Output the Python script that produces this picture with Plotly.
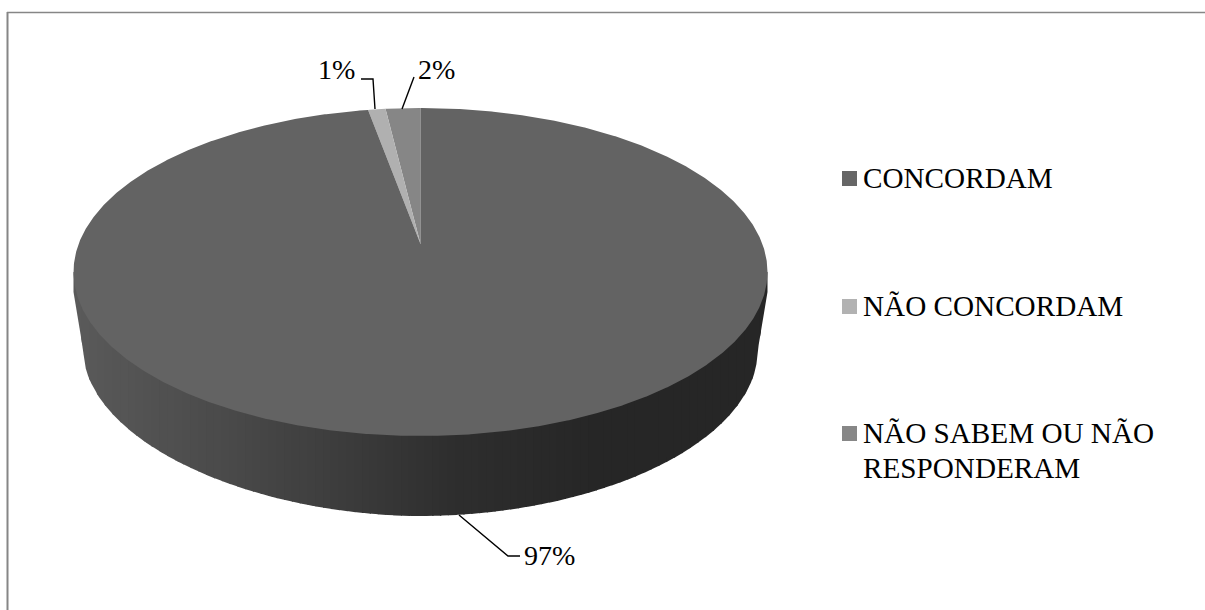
import math
import numpy as np
import plotly.graph_objects as go

# Survey answers; the pie runs counter-clockwise from 12 o'clock, last answer first
categories = ["CONCORDAM", "NÃO CONCORDAM", "NÃO SABEM OU NÃO<br>RESPONDERAM"]
values = [97, 1, 2]
labels = ["97%", "1%", "2%"]
top_colors = ["#636363", "#b0b0b0", "#868686"]
legend_colors = ["#666666", "#b2b2b2", "#878787"]

W, H = 1205, 610
FONT = "Liberation Serif"
LEGEND_SIZE = 29.2
LABEL_SIZE = 28

# Perspective disc: top face ellipse, its vanishing apex, and the rim's lower ellipse
CX, CY, RX, RY = 420.5, 272.0, 347.0, 164.0
APEX_Y = 244.0
SQUEEZE = 2.05
BX, BY, BRX, BRY = 420.5, 352.0, 337.0, 164.0
LEFT_POWER, RIGHT_POWER = 1.9, 1.95


def rim_point(theta):
    """Point of the top ellipse reached from the apex at pie angle theta."""
    dx, dy = SQUEEZE * math.sin(theta), -math.cos(theta)
    ox, oy = 0.0, (APEX_Y - CY)
    a = (dx / RX) ** 2 + (dy / RY) ** 2
    b = 2 * (ox * dx / RX**2 + oy * dy / RY**2)
    c = (ox / RX) ** 2 + (oy / RY) ** 2 - 1
    t = (-b + math.sqrt(b * b - 4 * a * c)) / (2 * a)
    return CX + t * dx, APEX_Y + t * dy


def wedge(start, end):
    """Outline of a slice between two cumulative shares of 100."""
    thetas = np.linspace(start, end, max(int((end - start) * 12), 8)) / 100 * 2 * math.pi
    pts = [rim_point(t) for t in thetas]
    xs = [CX] + [p[0] for p in pts] + [CX]
    ys = [APEX_Y] + [p[1] for p in pts] + [APEX_Y]
    return xs, ys


def wall_bottom(x):
    """Lower outline of the disc's side wall at horizontal position x."""
    u = (x - BX) / BRX
    if abs(u) >= 1:
        # straight silhouette between the two ellipses
        edge_top = 292.0
        f = (abs(x - CX) - BRX) / (RX - BRX)
        return BY + (edge_top - BY) * min(max(f, 0), 1)
    p = LEFT_POWER if u < 0 else RIGHT_POWER
    return BY + BRY * (1 - abs(u) ** p) ** (1 / p)


def wall_shade(x):
    """Grey level of the side wall, darkening from left to right."""
    stops_x = [CX - RX, 260, 450, 600, CX + RX]
    stops_v = [0x5a, 0x46, 0x2e, 0x26, 0x26]
    return int(round(float(np.interp(x, stops_x, stops_v))))


fig = go.Figure()

# Side wall as narrow vertical bands carrying the shading
edges = np.linspace(CX - RX, CX + RX, 90)
for x0, x1 in zip(edges[:-1], edges[1:]):
    xs = np.linspace(x0, min(x1 + 1.2, CX + RX), 5)
    lower = [wall_bottom(x) for x in xs]
    v = wall_shade((x0 + x1) / 2)
    fig.add_trace(go.Scatter(
        x=[xs[0]] + list(xs) + [xs[-1], xs[0]],
        y=[CY] + lower + [CY, CY],
        mode="lines", fill="toself", line=dict(width=0),
        fillcolor=f"rgb({v},{v},{v})", hoverinfo="skip", showlegend=False,
    ))

# Top face slices
cum = 0.0
for i in [2, 1, 0]:
    start, end = cum, cum + values[i]
    xs, ys = wedge(-end, -start)
    fig.add_trace(go.Scatter(
        x=xs, y=ys, mode="lines", fill="toself", line=dict(width=0),
        fillcolor=top_colors[i], name=categories[i], hoverinfo="name", showlegend=False,
    ))
    cum = end

# Leader lines
leaders = [
    ([459, 508, 520], [515, 556, 556]),
    ([375, 373, 361], [109, 79, 79]),
    ([402, 414], [109, 77]),
]
for lx, ly in leaders:
    fig.add_trace(go.Scatter(x=lx, y=ly, mode="lines", line=dict(color="#000000", width=1.4),
                             hoverinfo="skip", showlegend=False))

# Legend swatches
legend_y = [178.5, 306.5, 433.5]
fig.add_trace(go.Scatter(
    x=[849.5] * 3, y=legend_y, mode="markers",
    marker=dict(symbol="square", size=15, color=legend_colors, line=dict(width=0)),
    hoverinfo="skip", showlegend=False,
))

annotations = []


def put_text(text, x, y, size):
    annotations.append(dict(
        x=x, y=y, xref="x", yref="y", text=text, showarrow=False,
        xanchor="left", yanchor="middle", align="left",
        font=dict(family=FONT, size=size, color="#000000"),
    ))


for cat, y in zip(categories, legend_y):
    for k, line in enumerate(cat.split("<br>")):
        put_text(line, 861, y - 1 + k * 35, LEGEND_SIZE)

for text, x, y in zip(labels, [522, 316, 416], [555, 69, 69]):
    put_text(text, x, y, LABEL_SIZE)

# Chart frame: only the top and left edges fall inside the page
frame = [
    dict(type="line", x0=7, x1=W, y0=12.5, y1=12.5, line=dict(color="#868686", width=1.5), layer="below"),
    dict(type="line", x0=7.5, x1=7.5, y0=12, y1=H, line=dict(color="#868686", width=2), layer="below"),
]

fig.update_layout(
    width=W, height=H,
    margin=dict(l=0, r=0, t=0, b=0),
    paper_bgcolor="#ffffff", plot_bgcolor="#ffffff",
    showlegend=False,
    xaxis=dict(range=[0, W], visible=False, fixedrange=True),
    yaxis=dict(range=[H, 0], visible=False, fixedrange=True),
    annotations=annotations,
    shapes=frame,
)

fig.write_html("out.html", config={"displayModeBar": False})
